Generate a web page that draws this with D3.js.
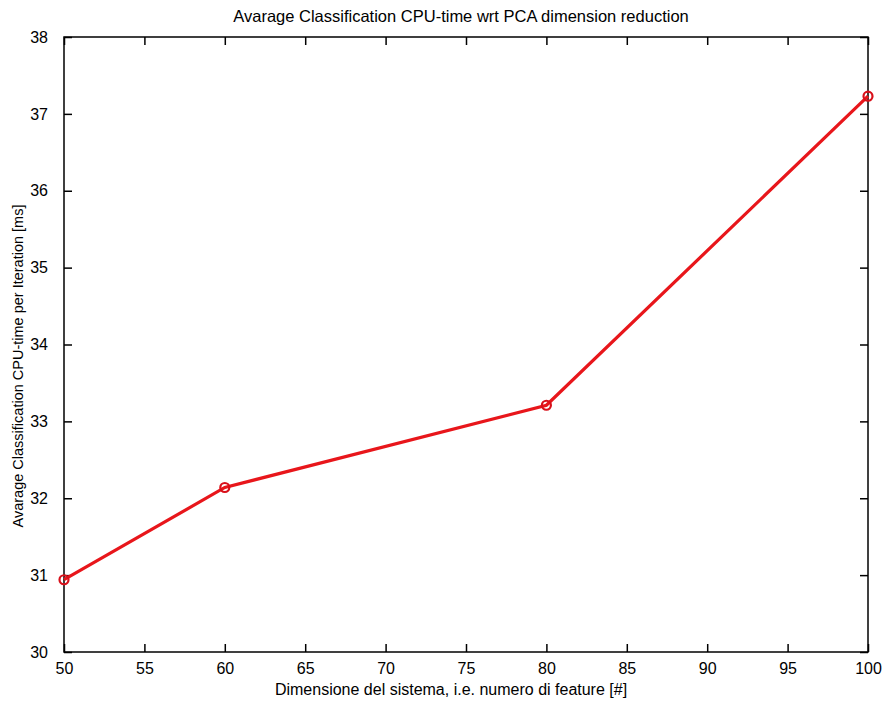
<!DOCTYPE html>
<html>
<head>
<meta charset="utf-8">
<script src="https://cdn.jsdelivr.net/npm/d3@7"></script>
<style>
  html, body { margin: 0; padding: 0; background: #fff; }
  svg { display: block; }
  text { font-family: "Liberation Sans", Arial, sans-serif; fill: #000; }
</style>
</head>
<body>
<div id="chart"></div>
<script>
// Feature counts after PCA reduction and the measured classification time
const dimensions = [50, 60, 80, 100];
const cpuTimeMs = [30.94, 32.14, 33.21, 37.23];

const xTicks = [50, 55, 60, 65, 70, 75, 80, 85, 90, 95, 100];
const yTicks = [30, 31, 32, 33, 34, 35, 36, 37, 38];

const titleText = "Avarage Classification CPU-time wrt PCA dimension reduction";
const xLabelText = "Dimensione del sistema, i.e. numero di feature [#]";
const yLabelText = "Avarage Classification CPU-time per Iteration [ms]";

const W = 885, H = 702;
const margin = { left: 64, right: 17, top: 37, bottom: 50 };
const tickLen = 8;

const svg = d3.select("#chart").append("svg")
  .attr("width", W).attr("height", H);

const x = d3.scaleLinear().domain([50, 100]).range([margin.left, W - margin.right]);
const y = d3.scaleLinear().domain([30, 38]).range([H - margin.bottom, margin.top]);

const x0 = x.range()[0], x1 = x.range()[1];
const y0 = y.range()[0], y1 = y.range()[1];

// Axes with inward ticks on all four sides
const axisStyle = g => {
  g.select(".domain").remove();
  g.selectAll("line").attr("stroke", "#000").attr("stroke-width", 1.5);
  g.selectAll("text").style("font-size", "16px");
};

svg.append("g").attr("transform", `translate(0,${y0})`)
  .call(d3.axisBottom(x).tickValues(xTicks).tickSize(-tickLen).tickPadding(3 + tickLen))
  .call(axisStyle);

svg.append("g").attr("transform", `translate(0,${y1})`)
  .call(d3.axisTop(x).tickValues(xTicks).tickSize(-tickLen).tickFormat(""))
  .call(axisStyle);

svg.append("g").attr("transform", `translate(${x0},0)`)
  .call(d3.axisLeft(y).tickValues(yTicks).tickSize(-tickLen).tickPadding(8 + tickLen))
  .call(axisStyle);

svg.append("g").attr("transform", `translate(${x1},0)`)
  .call(d3.axisRight(y).tickValues(yTicks).tickSize(-tickLen).tickFormat(""))
  .call(axisStyle);

// Plot box
svg.append("rect")
  .attr("x", x0).attr("y", y1)
  .attr("width", x1 - x0).attr("height", y0 - y1)
  .attr("fill", "none").attr("stroke", "#000").attr("stroke-width", 1.5);

// Data line and circle markers
const pts = dimensions.map((d, i) => [d, cpuTimeMs[i]]);

svg.append("path")
  .datum(pts)
  .attr("d", d3.line().x(d => x(d[0])).y(d => y(d[1])))
  .attr("fill", "none")
  .attr("stroke", "#e8161b")
  .attr("stroke-width", 3.2);

svg.selectAll("circle.pt").data(pts).enter().append("circle")
  .attr("class", "pt")
  .attr("cx", d => x(d[0])).attr("cy", d => y(d[1]))
  .attr("r", 4.5)
  .attr("fill", "none")
  .attr("stroke", "#d8101a")
  .attr("stroke-width", 2.2);

// Title and axis labels
svg.append("text")
  .attr("x", 461).attr("y", 22)
  .attr("text-anchor", "middle")
  .style("font-size", "16.5px")
  .text(titleText);

svg.append("text")
  .attr("x", 451).attr("y", 695)
  .attr("text-anchor", "middle")
  .style("font-size", "16px")
  .text(xLabelText);

svg.append("text")
  .attr("transform", `translate(23,366) rotate(-90)`)
  .attr("text-anchor", "middle")
  .style("font-size", "14.5px")
  .text(yLabelText);
</script>
</body>
</html>
